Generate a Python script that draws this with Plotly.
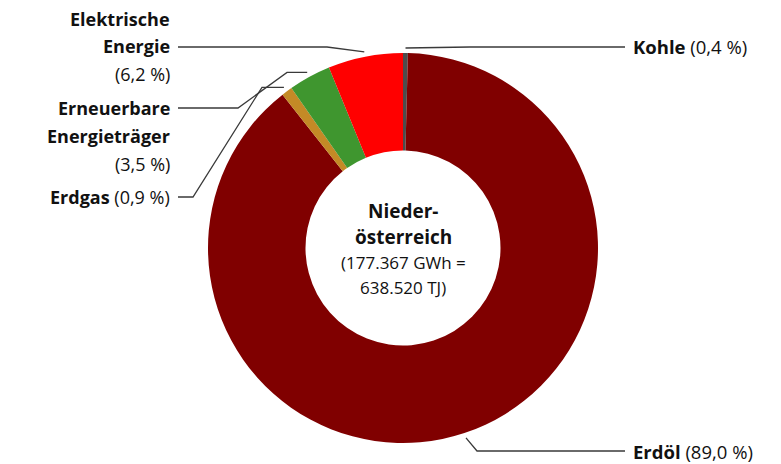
import numpy as np
import plotly.graph_objects as go

# ---- data ----
categories = ["Kohle", "Erdöl", "Erdgas", "Erneuerbare Energieträger", "Elektrische Energie"]
shares = [0.4, 89.0, 0.9, 3.5, 6.2]
share_labels = ["(0,4 %)", "(89,0 %)", "(0,9 %)", "(3,5 %)", "(6,2 %)"]
colors = ["#4d4d4d", "#800000", "#c48a26", "#3f962f", "#ff0000"]
center_title = ["Nieder-", "österreich"]
center_sub = ["(177.367 GWh =", "638.520 TJ)"]

# ---- layout geometry (target pixels in the 781x464 window) ----
W, H = 781, 464
CX, CY, R = 403, 248, 195
FONT = "Open Sans"
LINE_COLOR = "#3a3a3a"


def px(x):
    return x / W


def py(y):
    return 1 - y / H


fig = go.Figure(go.Pie(
    labels=categories, values=shares, sort=False, direction="clockwise",
    rotation=0, hole=0.5, textinfo="none", hoverinfo="label+percent",
    marker=dict(colors=colors, line=dict(width=0)),
    domain=dict(x=[px(CX - R), px(CX + R)], y=[py(CY + R), py(CY - R)]),
    showlegend=False,
))

# anchor points of leader lines from slice mid angles
vals = np.array(shares)
mids = (np.cumsum(vals) - vals / 2) / vals.sum()
RA = R + 5
anchors = []
for m in mids:
    a = 2 * np.pi * m
    anchors.append((CX + RA * np.sin(a), CY - RA * np.cos(a)))

# leader paths: list of points (pixels) ending at the anchor
paths = {
    0: [(625, 47), (470, 47)],
    1: [(625, 451), (477, 451)],
    2: [(178, 197), (193, 197), (262, None)],
    3: [(178, 108), (238, 108), (287, None)],
    4: [(178, 47), (327, 47)],
}
shapes = []
for i, pts in paths.items():
    ax, ay = anchors[i]
    full = [(x, ay if y is None else y) for x, y in pts] + [(ax, ay)]
    d = "M " + " L ".join(f"{px(x):.5f},{py(y):.5f}" for x, y in full)
    shapes.append(dict(type="path", xref="paper", yref="paper", path=d,
                       line=dict(color=LINE_COLOR, width=1.3)))

annotations = []


def add(text, x, y, anchor, size=18):
    annotations.append(dict(text=text, x=px(x), y=py(y), xref="paper", yref="paper",
                            xanchor=anchor, yanchor="middle", showarrow=False,
                            borderpad=0,
                            font=dict(family=FONT, size=size, color="#111111")))


# right labels
add(f"<b>{categories[0]}</b> {share_labels[0]}", 632, 46, "left", 18.5)
add(f"<b>{categories[1]}</b> {share_labels[1]}", 632, 451, "left", 18.5)
# left labels
add("<b>Elektrische</b>", 171, 19, "right")
add("<b>Energie</b>", 171, 46, "right")
add(share_labels[4], 171, 74, "right")
add("<b>Erneuerbare</b>", 171, 108, "right")
add("<b>Energieträger</b>", 171, 136, "right")
add(share_labels[3], 171, 164, "right")
add(f"<b>{categories[2]}</b> {share_labels[2]}", 171, 197, "right")
# center
add(f"<b>{center_title[0]}</b>", CX, 211, "center", 19)
add(f"<b>{center_title[1]}</b>", CX, 237, "center", 19)
add(center_sub[0], CX, 262, "center", 17)
add(center_sub[1], CX, 287, "center", 17)

fig.update_layout(
    width=W, height=H, margin=dict(l=0, r=0, t=0, b=0),
    paper_bgcolor="white", plot_bgcolor="white",
    shapes=shapes, annotations=annotations,
    font=dict(family=FONT),
)

fig.write_html("out.html", config={"displayModeBar": False},
               post_script="document.body.style.margin='0px';document.body.style.overflow='hidden';")
